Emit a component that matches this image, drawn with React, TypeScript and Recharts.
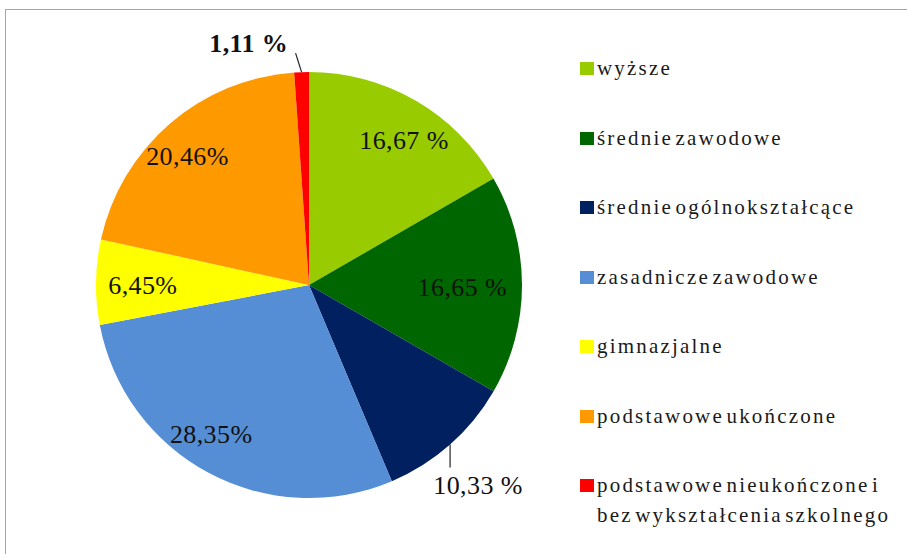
import { Cell, Legend, Pie, PieChart } from "recharts";

// education levels, clockwise from 12 o'clock
const categories = [
  "wyższe",
  "średnie zawodowe",
  "średnie ogólnokształcące",
  "zasadnicze zawodowe",
  "gimnazjalne",
  "podstawowe ukończone",
  "podstawowe nieukończone i\nbez wykształcenia szkolnego"
];
const shares = [16.67, 16.65, 10.33, 28.35, 6.45, 20.46, 1.11];
const shareLabels = ["16,67 %", "16,65 %", "10,33 %", "28,35%", "6,45%", "20,46%", "1,11 %"];

const colors = ["#99cc00", "#006600", "#002060", "#558ed5", "#ffff00", "#ff9900", "#ff0000"];

const data = categories.map((name, i) => ({ name, value: shares[i] }));

const SERIF = "Liberation Serif, Tinos, Times New Roman, DejaVu Serif, serif";

// label placement: [radius factor, angle shift in degrees]
const labelPlace: [number, number][] = [
  [0.81, 3.4],
  [0.72, 1],
  [1.23, 1.3],
  [0.84, 5],
  [0.78, -0.8],
  [0.83, -2.6],
  [1.17, -12]
];
// leader line offsets for the labels outside the pie
const leaders: Record<number, [number, number]> = {
  2: [0, 23],
  6: [-6, -19]
};

const RAD = Math.PI / 180;

function renderLabel(props: any) {
  const { cx, cy, midAngle, outerRadius, index } = props;
  const [rf, shift] = labelPlace[index];
  const a = (90 - midAngle + shift) * RAD;
  const r = outerRadius * rf;
  const x = cx + r * Math.sin(a);
  const y = cy - r * Math.cos(a);
  const lead = leaders[index];
  let line = null;
  if (lead) {
    const m = (90 - midAngle) * RAD;
    const sx = cx + outerRadius * Math.sin(m);
    const sy = cy - outerRadius * Math.cos(m);
    line = <line x1={sx} y1={sy} x2={sx + lead[0]} y2={sy + lead[1]} stroke="#222" strokeWidth={1.2} />;
  }
  return (
    <g key={`lbl-${index}`}>
      {line}
      <text
        x={x}
        y={y}
        textAnchor="middle"
        dominantBaseline="central"
        fill="#111"
        style={{ fontFamily: SERIF }}
        fontSize={26}
        fontWeight={index === 6 ? 700 : 400}
        letterSpacing={0.4}
      >
        {shareLabels[index]}
      </text>
    </g>
  );
}

function LegendList({ payload }: any) {
  // keep the order of the categories, not the legend's own sorting
  const items = [...(payload || [])].sort(
    (a: any, b: any) => categories.indexOf(a.value) - categories.indexOf(b.value)
  );
  return (
    <div style={{ fontFamily: SERIF, fontSize: 21, color: "#1a1a1a" }}>
      {items.map((entry: any) => {
        const i = categories.indexOf(entry.value);
        return (
          <div key={entry.value} style={{ display: "flex", alignItems: "flex-start", marginBottom: 39.5 }}>
            <span
              style={{
                width: 14,
                height: 13,
                marginTop: 9,
                marginRight: 3,
                background: colors[i],
                flex: "none"
              }}
            />
            <span style={{ lineHeight: "30px", whiteSpace: "pre-line", letterSpacing: 2.2, wordSpacing: -5 }}>
              {entry.value}
            </span>
          </div>
        );
      })}
    </div>
  );
}

export default function App() {
  return (
    <div style={{ position: "fixed", left: 0, top: 0, width: 907, height: 554, overflow: "hidden", background: "#fff" }}>
      <div
        style={{
          position: "absolute",
          left: 5,
          top: 9,
          width: 1000,
          height: 1000,
          border: "1px solid #a6a6a6"
        }}
      />
      <div style={{ position: "absolute", left: 0, top: 0 }}>
        <PieChart width={907} height={554} margin={{ top: 0, right: 0, bottom: 0, left: 0 }}>
          <Pie
            data={data}
            dataKey="value"
            nameKey="name"
            cx={309}
            cy={285}
            outerRadius={213}
            startAngle={90}
            endAngle={-270}
            stroke="none"
            label={renderLabel}
            labelLine={false}
            isAnimationActive={false}
          >
            {data.map((d, i) => (
              <Cell key={d.name} fill={colors[i]} />
            ))}
          </Pie>
          <Legend
            layout="vertical"
            align="right"
            verticalAlign="top"
            content={<LegendList />}
            wrapperStyle={{ position: "absolute", left: 580, top: 53, width: 327 }}
          />
        </PieChart>
      </div>
    </div>
  );
}
